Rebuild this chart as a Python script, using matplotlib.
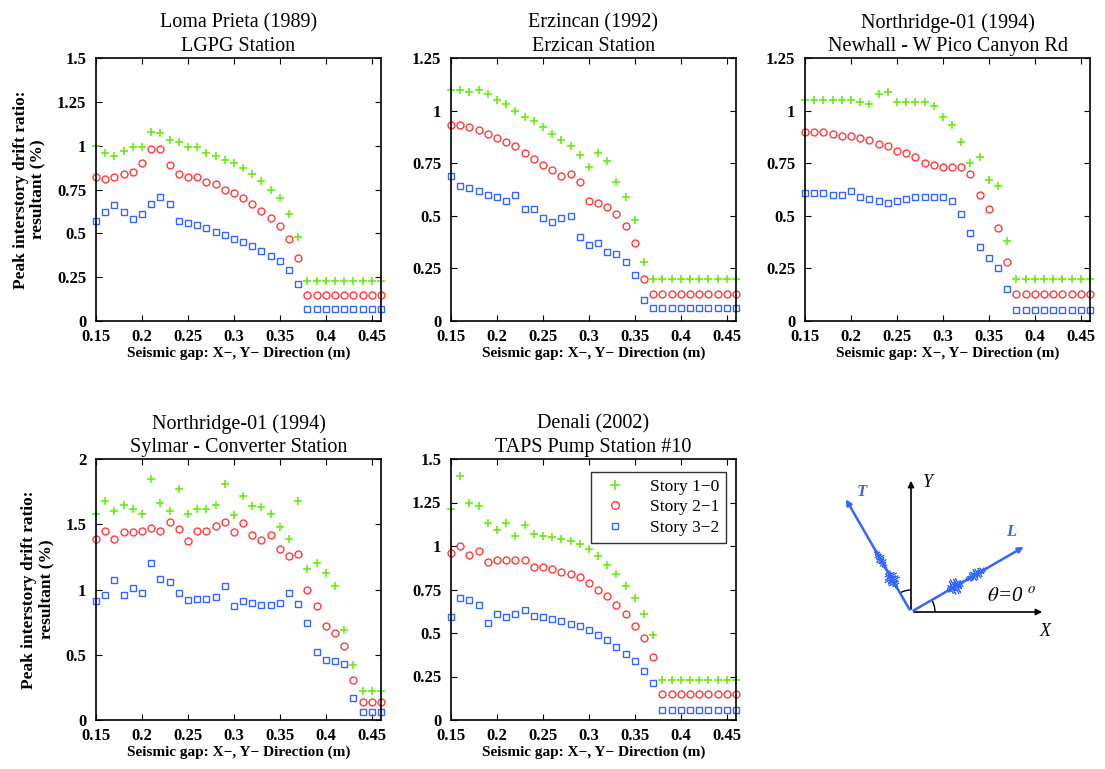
import numpy as np
import matplotlib.pyplot as plt
from matplotlib.patches import Arc
from matplotlib.ticker import FuncFormatter

plt.rcParams['font.family'] = 'Liberation Serif'
plt.rcParams['mathtext.fontset'] = 'stix'

# --- Datos ---
gap = np.round(np.arange(0.15, 0.465, 0.01), 2)   # 0.15 ... 0.46 (32 puntos)

titles = ["Loma Prieta (1989)\nLGPG Station",
          "Erzincan (1992)\nErzican Station",
          "Northridge-01 (1994)\nNewhall - W Pico Canyon Rd",
          "Northridge-01 (1994)\nSylmar - Converter Station",
          "Denali (2002)\nTAPS Pump Station #10"]
ylims = [1.5, 1.25, 1.25, 2.0, 1.5]
ysteps = [0.25, 0.25, 0.25, 0.5, 0.25]

loma_s10 = [1.00, 0.96, 0.94, 0.97, 0.99, 0.99, 1.08, 1.07, 1.03, 1.02, 0.99, 0.99, 0.96, 0.94, 0.92, 0.90,
            0.87, 0.84, 0.80, 0.75, 0.70, 0.61, 0.48] + [0.23] * 9
loma_s21 = [0.82, 0.81, 0.82, 0.84, 0.85, 0.90, 0.98, 0.98, 0.89, 0.84, 0.82, 0.82, 0.79, 0.78, 0.75, 0.73,
            0.70, 0.67, 0.63, 0.59, 0.54, 0.47, 0.36] + [0.15] * 9
loma_s32 = [0.57, 0.62, 0.66, 0.62, 0.58, 0.61, 0.67, 0.71, 0.67, 0.57, 0.56, 0.55, 0.53, 0.51, 0.49, 0.47,
            0.45, 0.43, 0.40, 0.37, 0.34, 0.29, 0.21] + [0.07] * 9

erz_s10 = [1.10, 1.10, 1.09, 1.10, 1.08, 1.05, 1.03, 1.00, 0.97, 0.95, 0.92, 0.89, 0.86, 0.83, 0.79, 0.73,
           0.80, 0.76, 0.66, 0.59, 0.48, 0.28] + [0.20] * 10
erz_s21 = [0.93, 0.93, 0.92, 0.91, 0.89, 0.87, 0.85, 0.83, 0.80, 0.77, 0.74, 0.72, 0.69, 0.70, 0.66, 0.57,
           0.56, 0.54, 0.51, 0.45, 0.37, 0.20] + [0.13] * 10
erz_s32 = [0.69, 0.64, 0.63, 0.62, 0.60, 0.59, 0.57, 0.60, 0.53, 0.53, 0.49, 0.47, 0.49, 0.50, 0.40, 0.36,
           0.37, 0.33, 0.32, 0.28, 0.22, 0.10] + [0.06] * 10

new_s10 = [1.05, 1.05, 1.05, 1.05, 1.05, 1.05, 1.04, 1.03, 1.08, 1.09, 1.04, 1.04, 1.04, 1.04, 1.02, 0.97,
           0.93, 0.85, 0.75, 0.78, 0.67, 0.64, 0.38] + [0.20] * 9
new_s21 = [0.90, 0.90, 0.90, 0.89, 0.88, 0.88, 0.87, 0.86, 0.84, 0.83, 0.81, 0.80, 0.78, 0.75, 0.74, 0.73,
           0.73, 0.73, 0.70, 0.60, 0.53, 0.44, 0.28] + [0.13] * 9
new_s32 = [0.61, 0.61, 0.61, 0.60, 0.60, 0.62, 0.59, 0.58, 0.57, 0.56, 0.57, 0.58, 0.59, 0.59, 0.59, 0.59,
           0.57, 0.51, 0.42, 0.35, 0.30, 0.25, 0.15] + [0.05] * 9

syl_s10 = [1.58, 1.68, 1.60, 1.65, 1.62, 1.58, 1.85, 1.66, 1.60, 1.77, 1.58, 1.62, 1.62, 1.65, 1.81, 1.57,
           1.72, 1.64, 1.63, 1.58, 1.48, 1.39, 1.68, 1.16, 1.20, 1.13, 1.03, 0.69, 0.42] + [0.22] * 3
syl_s21 = [1.39, 1.45, 1.39, 1.44, 1.44, 1.45, 1.47, 1.45, 1.52, 1.46, 1.37, 1.45, 1.45, 1.49, 1.52, 1.44,
           1.51, 1.42, 1.38, 1.42, 1.31, 1.26, 1.27, 1.00, 0.87, 0.72, 0.67, 0.57, 0.31] + [0.14] * 3
syl_s32 = [0.91, 0.96, 1.07, 0.96, 1.01, 0.97, 1.20, 1.08, 1.06, 0.97, 0.92, 0.93, 0.93, 0.94, 1.03, 0.87,
           0.91, 0.90, 0.88, 0.88, 0.90, 0.97, 0.89, 0.74, 0.52, 0.46, 0.45, 0.43, 0.17] + [0.06] * 3

den_s10 = [1.21, 1.40, 1.25, 1.23, 1.13, 1.09, 1.13, 1.06, 1.12, 1.07, 1.06, 1.05, 1.04, 1.03, 1.01, 0.98,
           0.94, 0.89, 0.84, 0.77, 0.70, 0.61, 0.49] + [0.23] * 9
den_s21 = [0.96, 1.00, 0.95, 0.97, 0.91, 0.92, 0.92, 0.92, 0.92, 0.88, 0.88, 0.87, 0.85, 0.84, 0.82, 0.79,
           0.75, 0.71, 0.66, 0.61, 0.54, 0.47, 0.36] + [0.15] * 9
den_s32 = [0.59, 0.70, 0.69, 0.66, 0.56, 0.61, 0.59, 0.61, 0.63, 0.60, 0.59, 0.58, 0.57, 0.55, 0.54, 0.52,
           0.49, 0.46, 0.42, 0.38, 0.34, 0.28, 0.21] + [0.06] * 9

series = [(loma_s10, loma_s21, loma_s32),
          (erz_s10, erz_s21, erz_s32),
          (new_s10, new_s21, new_s32),
          (syl_s10, syl_s21, syl_s32),
          (den_s10, den_s21, den_s32)]
labels = ["Story 1\u22120", "Story 2\u22121", "Story 3\u22122"]

# --- Estilo ---
green, red, blue = '#66ee11', '#ff3b3b', '#3366ff'
W, H = 1105, 769
fig = plt.figure(figsize=(W / 100, H / 100), dpi=100)

# posiciones en pixeles (izq, der, arriba, abajo)
boxes = [(96, 381, 58, 321), (451, 736, 58, 321), (805, 1090, 58, 321),
         (96, 381, 459, 720), (451, 736, 459, 720)]

fmt = FuncFormatter(lambda v, p: '%g' % round(v, 2))

for i, (l, r, t, b) in enumerate(boxes):
    ax = fig.add_axes([l / W, 1 - b / H, (r - l) / W, (b - t) / H])
    s10, s21, s32 = series[i]
    ax.plot(gap, s10, '+', color=green, ms=6, mew=1.2, label=labels[0], clip_on=False)
    ax.plot(gap, s21, 'o', mfc='none', mec=red, ms=5, mew=1.0, label=labels[1], clip_on=False)
    ax.plot(gap, s32, 's', mfc='none', mec=blue, ms=4, mew=1.0, label=labels[2], clip_on=False)
    ax.set_xlim(0.15, 0.46)
    ax.set_ylim(0, ylims[i])
    ax.set_xticks(np.arange(0.15, 0.451, 0.05))
    ax.set_yticks(np.arange(0, ylims[i] + 1e-6, ysteps[i]))
    ax.xaxis.set_major_formatter(fmt)
    ax.yaxis.set_major_formatter(fmt)
    ax.tick_params(direction='in', top=True, right=True, length=4, width=0.8,
                   labelsize=12)
    ax.tick_params(axis='x', pad=6)
    ax.tick_params(axis='y', pad=7)
    for lab in ax.get_xticklabels() + ax.get_yticklabels():
        lab.set_fontweight('bold')
    for sp in ax.spines.values():
        sp.set_linewidth(1.2)
    ax.set_title(titles[i], fontsize=14.5, linespacing=1.3, pad=5)
    ax.set_xlabel("Seismic gap: X\u2212, Y\u2212 Direction (m)", fontsize=11, fontweight='bold', labelpad=1)
    if i in (0, 3):
        ax.set_ylabel("Peak interstory drift ratio:\nresultant (%)", fontsize=12.5,
                      fontweight='bold', linespacing=1.1, labelpad=8)
    if i == 4:
        leg = ax.legend(loc='upper right', fontsize=12.5, frameon=True, fancybox=False,
                        borderpad=0.4, handletextpad=1.0, labelspacing=0.25,
                        bbox_to_anchor=(0.995, 0.985), markerscale=1.1)
        leg.get_frame().set_edgecolor('black')
        leg.get_frame().set_linewidth(1.0)

# --- Diagrama de direcciones ---
dx0, dy0 = 820, 660
ax = fig.add_axes([dx0 / W, 1 - dy0 / H, 280 / W, 200 / H])
ax.set_xlim(0, 280)
ax.set_ylim(0, 200)
ax.axis('off')
ox, oy = 91, 48
axis_len = 134
ax.annotate('', xy=(ox + axis_len, oy), xytext=(ox, oy),
            arrowprops=dict(arrowstyle='-|>', color='black', lw=1.2, mutation_scale=9))
ax.annotate('', xy=(ox, oy + axis_len), xytext=(ox, oy),
            arrowprops=dict(arrowstyle='-|>', color='black', lw=1.2, mutation_scale=9))
ax.text(ox + 17, oy + 129, 'Y', fontsize=13, style='italic', ha='center', va='center')
ax.text(ox + 134, oy - 20, 'X', fontsize=13, style='italic', ha='center', va='center')

line_len = 133
# (angulo, etiqueta, tramos de registro: inicio, fin, amplitud)
waves = [(30, 'L', [(40, 62, 9), (60, 90, 6)]), (120, 'T', [(26, 50, 8), (46, 75, 5)])]
for ang, name, bursts in waves:
    th = np.deg2rad(ang)
    ux, uy = np.cos(th), np.sin(th)
    px, py = -uy, ux
    ax.annotate('', xy=(ox + line_len * ux, oy + line_len * uy), xytext=(ox, oy),
                arrowprops=dict(arrowstyle='-|>', color=blue, lw=1.8, mutation_scale=8))
    # registro sismico esquematico sobre la linea
    for c0, c1, amp in bursts:
        s = np.linspace(c0, c1, 700)
        env = np.sin(np.pi * (s - c0) / (c1 - c0)) ** 1.5
        wig = amp * env * np.sin(5.1 * s) * np.cos(1.3 * s + 0.4)
        ax.plot(ox + s * ux + wig * px, oy + s * uy + wig * py, color=blue, lw=0.7)
    sign = 1 if ang == 30 else -1
    ax.text(ox + (line_len - 2) * ux + 14 * px * sign - (6 if ang == 30 else -4),
            oy + (line_len - 2) * uy + 14 * py * sign + (2 if ang == 30 else 0),
            name, color=blue, fontsize=12, style='italic', fontweight='bold', ha='center', va='center')

ax.add_patch(Arc((ox, oy), 48, 48, theta1=0, theta2=30, color='black', lw=1.0))
ax.add_patch(Arc((ox, oy), 44, 44, theta1=90, theta2=120, color='black', lw=1.0))
ax.text(ox + 100, oy + 15, r'$\theta$=0 $^o$', fontsize=15, style='italic', ha='center', va='center')

plt.savefig('out.png', dpi=100)
